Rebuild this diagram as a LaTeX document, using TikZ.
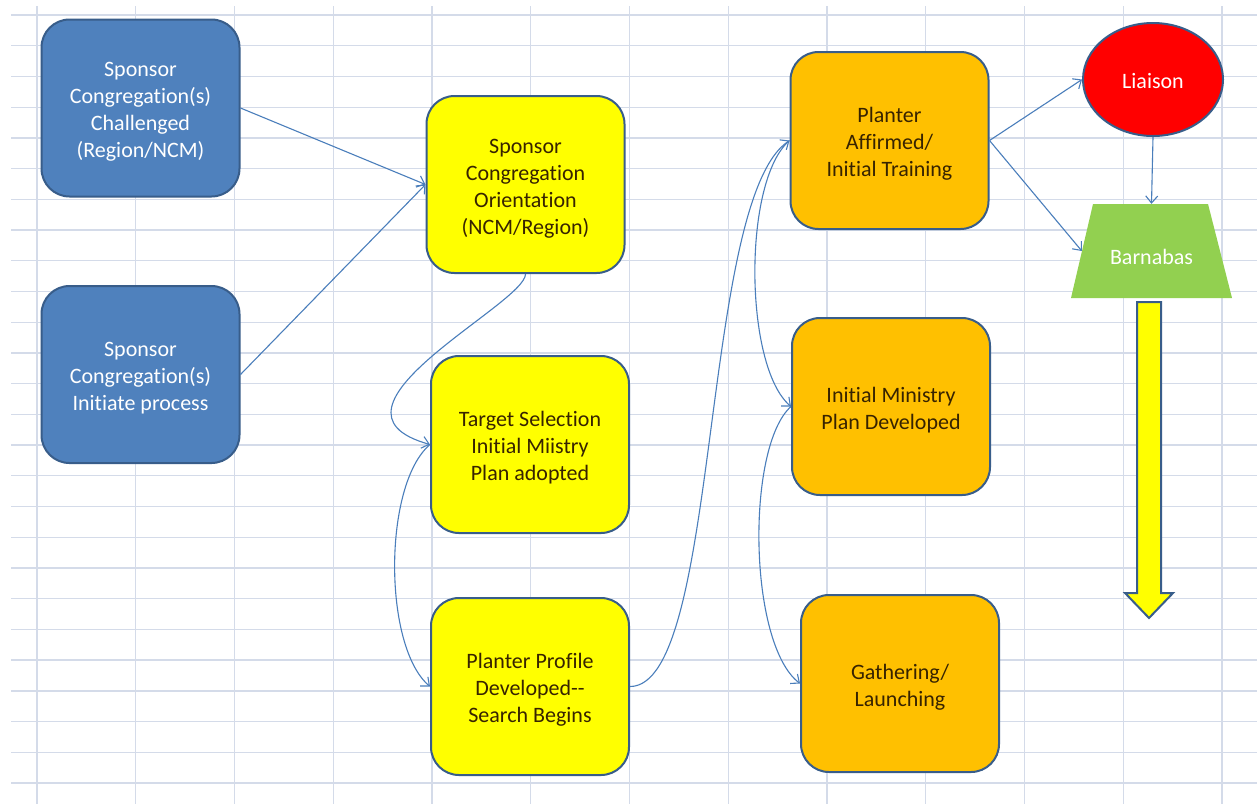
\documentclass[tikz,border=0pt]{standalone}
\usepackage{fontspec}
\setmainfont{Carlito}[Ligatures={NoCommon}]
\usetikzlibrary{arrows.meta,shapes.geometric}
\definecolor{gridc}{RGB}{212,219,233}
\definecolor{bluef}{RGB}{79,129,189}
\definecolor{edgec}{RGB}{56,93,138}
\definecolor{yel}{RGB}{255,255,0}
\definecolor{ora}{RGB}{255,192,0}
\definecolor{grn}{RGB}{146,208,80}
\definecolor{linkc}{RGB}{74,126,187}
\definecolor{darktext}{RGB}{55,35,0}
\newcommand\boxtxt[2][-9pt]{\raisebox{#1}[0pt][0pt]{\begin{tabular}{@{}c@{}}#2\end{tabular}}}
\tikzset{
  box/.style={draw=edgec, line width=2pt, rounded corners=28pt,
    minimum width=198pt, minimum height=177pt, inner sep=0pt,
    font=\fontsize{22}{27}\selectfont},
  bluebox/.style={box, fill=bluef, text=white},
  yelbox/.style={box, fill=yel, text=darktext},
  orabox/.style={box, fill=ora, text=darktext},
  link/.style={draw=linkc, line width=1.1pt, -{Straight Barb[length=7pt,width=12pt]}},
}
\begin{document}
\begin{tikzpicture}[x=1pt,y=-1pt]
\useasboundingbox (0,0) rectangle (1257,804);
\fill[white] (0,0) rectangle (1257,804);
% grid
\foreach \k in {0,...,12} {
  \draw[gridc, line width=1.3pt] ({37+98.75*\k},6) -- ({37+98.75*\k},804);
}
\foreach \k in {0,...,25} {
  \draw[gridc, line width=1.3pt] (11,{15+30.72*\k}) -- (1257,{15+30.72*\k});
}
% nodes
\node[bluebox] (b1) at (140.5,108) {\boxtxt{Sponsor\\Congregation(s)\\Challenged\\(Region/NCM)}};
\node[bluebox] (b2) at (140.5,374.5) {\boxtxt{Sponsor\\Congregation(s)\\Initiate process}};
\node[yelbox] (y1) at (525.5,184.5) {\boxtxt{Sponsor\\Congregation\\Orientation\\(NCM/Region)}};
\node[yelbox] (y2) at (530,444.5) {\boxtxt{Target Selection\\Initial Miistry\\Plan adopted}};
\node[yelbox] (y3) at (530,686.5) {\boxtxt{Planter Profile\\Developed-{}-\\Search Begins}};
\node[orabox] (o1) at (889.5,140.5) {\boxtxt{Planter\\Affirmed/\\Initial Training}};
\node[orabox] (o2) at (891,406.5) {\boxtxt{Initial Ministry\\Plan Developed}};
\node[orabox] (o3) at (900,683.5) {\boxtxt{Gathering/\\Launching}};
\node[ellipse, draw=edgec, line width=2pt, fill=red, text=white,
  minimum width=140pt, minimum height=113pt, inner sep=0pt,
  font=\fontsize{22}{27}\selectfont] (li) at (1153,79.5) {\boxtxt[-9pt]{Liaison}};
\fill[grn] (1093,204) -- (1208,204) -- (1232,298) -- (1071,298) -- cycle;
\node[text=white, minimum width=139pt, minimum height=94pt, inner sep=0pt,
  font=\fontsize{22}{27}\selectfont] (ba) at (1151.5,251) {\boxtxt[-13pt]{Barnabas}};
% big down arrow
\draw[edgec, line width=2pt, fill=yel, line join=miter]
  (1137,302) -- (1161,302) -- (1161,593) -- (1173,593) -- (1149,618)
  -- (1125,593) -- (1137,593) -- cycle;
% connectors
\draw[link] (b1.east) -- (y1.west);
\draw[link] (b2.east) -- (y1.west);
\draw[link] (y1.south) .. controls +(0,30) and +(-125,-35) .. (y2.west);
\draw[link] (y2.west) .. controls +(-47,40) and +(-47,-40) .. (y3.west);
\draw[link] (y3.east) .. controls +(91,0) and +(-90,60) .. (o1.west);
\draw[link] (o1.west) .. controls +(-47,40) and +(-47,-40) .. (o2.west);
\draw[link] (o2.west) .. controls +(-45,40) and +(-52,-40) .. (o3.west);
\draw[link] (o1.east) -- (li.west);
\draw[link] (o1.east) -- (ba.west);
\draw[link] (li.south) -- (ba.north);
\end{tikzpicture}
\end{document}
